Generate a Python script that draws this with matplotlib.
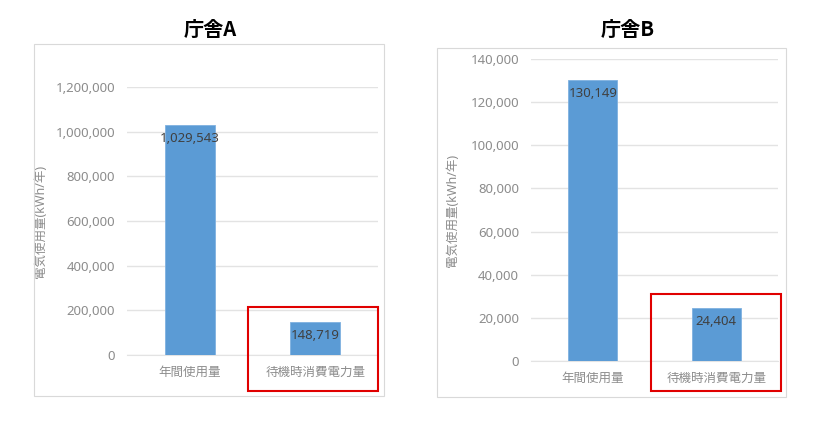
import matplotlib
matplotlib.use("Agg")
import matplotlib.pyplot as plt
from matplotlib.patches import Rectangle
from matplotlib.ticker import FuncFormatter

plt.rcParams['font.family'] = ['Noto Sans', 'Noto Sans CJK JP', 'DejaVu Sans']

# データ
categories = ['年間使用量', '待機時消費電力量']
values_a = [1029543, 148719]
values_b = [130149, 24404]
ticks_a = [0, 200000, 400000, 600000, 800000, 1000000, 1200000]
ticks_b = [0, 20000, 40000, 60000, 80000, 100000, 120000, 140000]
titles = ['庁舎A', '庁舎B']
ylabel = '電気使用量(kWh/年)'

W, H = 821, 423
fig = plt.figure(figsize=(W / 100, H / 100), dpi=100)

bar_color = '#5B9BD5'
grid_color = '#e3e3e3'
tick_color = '#8c8c8c'


def px_axes(left, top, right, bottom):
    # ピクセル座標から Figure 座標へ
    return fig.add_axes([left / W, (H - bottom) / H, (right - left) / W, (bottom - top) / H])


def px_rect(left, top, right, bottom, **kw):
    fig.patches.append(Rectangle((left / W, (H - bottom) / H), (right - left) / W, (bottom - top) / H,
                                 transform=fig.transFigure, fill=False, **kw))


def draw_panel(ax, values, ticks, label_x):
    x = range(len(categories))
    bars = ax.bar(x, values, width=0.4, color=bar_color, edgecolor='#7fb1e0', linewidth=0.6, zorder=3)
    ax.set_xlim(-0.5, len(categories) - 0.5)
    ax.set_ylim(0, ticks[-1])
    ax.set_yticks(ticks)
    ax.yaxis.set_major_formatter(FuncFormatter(lambda v, p: f'{int(v):,}'))
    ax.set_xticks(list(x))
    ax.set_xticklabels(categories)
    ax.grid(axis='y', color=grid_color, linewidth=1, zorder=0)
    for s in ['top', 'right', 'left']:
        ax.spines[s].set_visible(False)
    ax.spines['bottom'].set_color(grid_color)
    ax.tick_params(axis='y', length=0, pad=8.5, labelsize=9.5, labelcolor=tick_color)
    ax.tick_params(axis='x', length=0, pad=8, labelsize=9, labelcolor=tick_color)
    ax.set_ylabel(ylabel, fontsize=9, color=tick_color)
    ax.yaxis.set_label_coords(label_x, 0.5)
    for b, v in zip(bars, values):
        ax.annotate(f'{v:,}', (b.get_x() + b.get_width() / 2, v), xytext=(0, -5),
                    textcoords='offset points', ha='center', va='top',
                    fontsize=9.5, color='#404040', zorder=4)


ax_a = px_axes(127, 87, 378, 355)
draw_panel(ax_a, values_a, ticks_a, -0.319)
ax_b = px_axes(531, 59, 778, 361)
draw_panel(ax_b, values_b, ticks_b, -0.291)

# 枠
px_rect(34, 44, 384, 396, edgecolor='#d9d9d9', linewidth=0.8)
px_rect(437, 48, 786, 397, edgecolor='#d9d9d9', linewidth=0.8)

# 赤枠
px_rect(248, 307, 378, 391, edgecolor='#e00000', linewidth=1.5)
px_rect(651, 294, 781, 391, edgecolor='#e00000', linewidth=1.5)

# タイトル
for tx, t in zip([210, 628], titles):
    fig.text(tx / W, 1 - 29 / H, t, ha='center', va='center', fontsize=14.5, fontweight='bold',
             family=['Noto Sans CJK JP', 'DejaVu Sans'])

fig.savefig('out.png', dpi=100, facecolor='white')
